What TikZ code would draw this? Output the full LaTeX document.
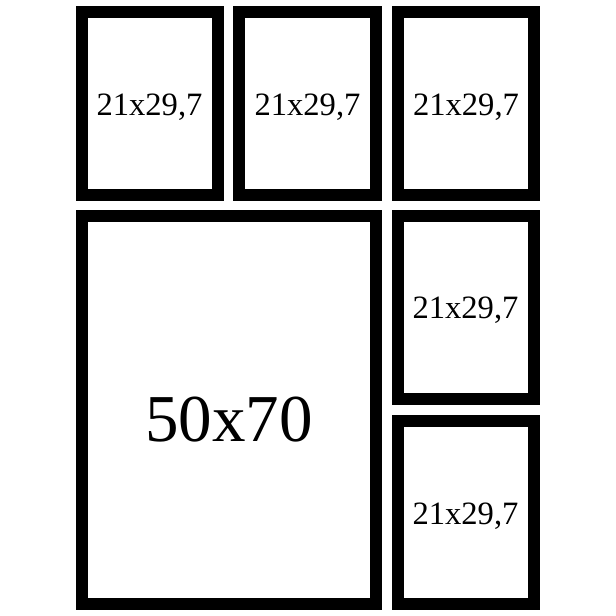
\documentclass[tikz,border=0pt]{standalone}
\usepackage{fontspec}
\setmainfont{Liberation Serif}
\begin{document}
\begin{tikzpicture}[x=1pt,y=-1pt,
  picframe/.style={draw=black,line width=12pt,fill=white,inner sep=0pt,outer sep=0pt,rectangle},
  smalllabel/.style={anchor=base,inner sep=0pt,font=\fontsize{32.6}{36}\selectfont},
  biglabel/.style={anchor=base,inner sep=0pt,font=\fontsize{67}{72}\selectfont}]
\useasboundingbox[fill=white] (0,0) rectangle (616,616);
\node[picframe,minimum width=136.3pt,minimum height=183pt] (f1) at (149.85,103.5) {};
\node[picframe,minimum width=136.4pt,minimum height=183pt] (f2) at (307.5,103.5) {};
\node[picframe,minimum width=136.6pt,minimum height=183pt] (f3) at (466,103.5) {};
\node[picframe,minimum width=136pt,minimum height=183pt] (f4) at (466.3,307.5) {};
\node[picframe,minimum width=136pt,minimum height=183pt] (f5) at (466.3,512.5) {};
\node[picframe,minimum width=294pt,minimum height=388pt] (big) at (228.7,410) {};
\node[smalllabel] (l1) at (149.5,115) {21x29,7};
\node[smalllabel] (l2) at (307.5,115) {21x29,7};
\node[smalllabel] (l3) at (466,115) {21x29,7};
\node[smalllabel] (l4) at (465.5,318.3) {21x29,7};
\node[smalllabel] (l5) at (465.5,524) {21x29,7};
\node[biglabel] (lb) at (228.8,441) {50x70};
\end{tikzpicture}
\end{document}
